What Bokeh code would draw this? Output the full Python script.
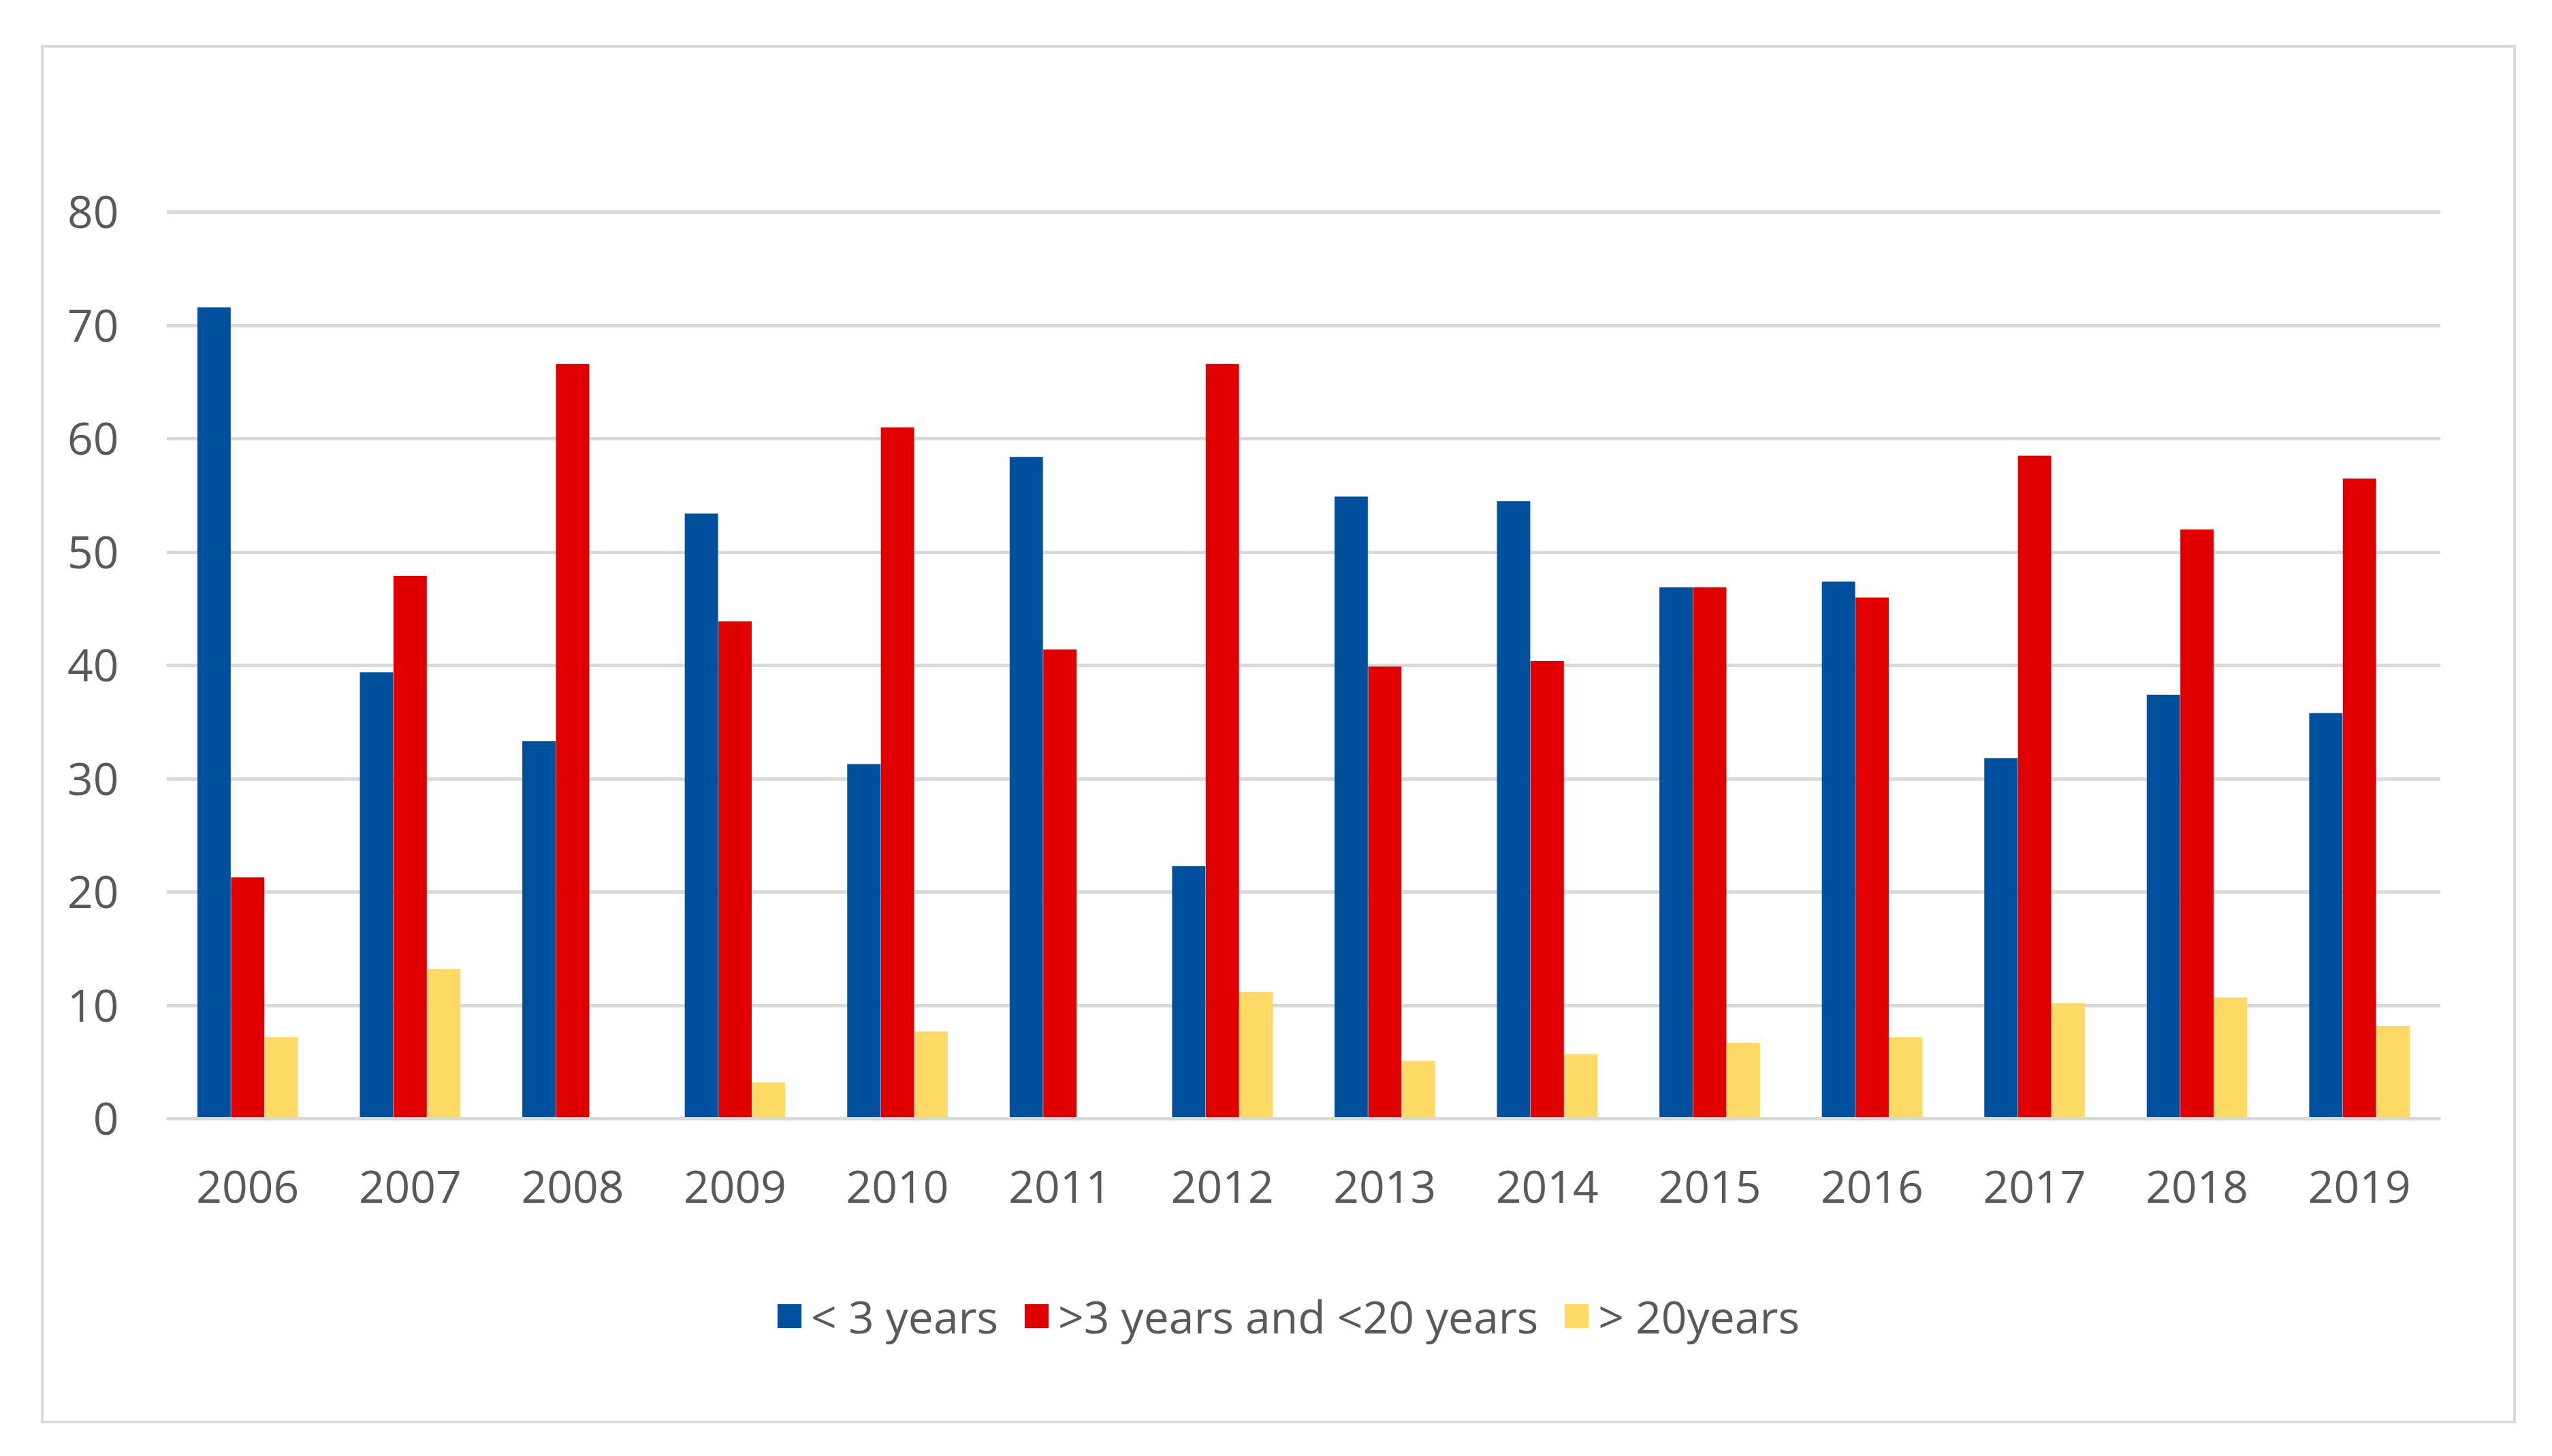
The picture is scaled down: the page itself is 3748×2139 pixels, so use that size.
from bokeh.plotting import figure
from bokeh.layouts import column
from bokeh.models import ColumnDataSource, FactorRange, Range1d, FixedTicker, Legend, LegendItem
from bokeh.transform import dodge
from bokeh.embed import file_html
from bokeh.resources import INLINE

years = ["2006", "2007", "2008", "2009", "2010", "2011", "2012",
         "2013", "2014", "2015", "2016", "2017", "2018", "2019"]
under3 = [71.6, 39.4, 33.3, 53.4, 31.3, 58.4, 22.3, 54.9, 54.5, 46.9, 47.4, 31.8, 37.4, 35.8]
mid3_20 = [21.3, 47.9, 66.6, 43.9, 61.0, 41.4, 66.6, 39.9, 40.4, 46.9, 46.0, 58.5, 52.0, 56.5]
over20 = [7.2, 13.2, 0.0, 3.2, 7.7, 0.0, 11.2, 5.1, 5.7, 6.7, 7.2, 10.2, 10.7, 8.2]
series_names = ["< 3 years", ">3 years and <20 years", "> 20years"]
y_ticks = [0, 10, 20, 30, 40, 50, 60, 70, 80]

colors = ["#00509E", "#E00000", "#FFD966"]
FONT = "Open Sans"
TXT = "#595959"
GRID = "#D9D9D9"

src = ColumnDataSource(dict(year=years, a=under3, b=mid3_20, c=over20))

W = 3627
p = figure(width=W, height=1773, output_backend="svg", toolbar_location=None,
           x_range=FactorRange(*years, range_padding=0), y_range=Range1d(0, 80.25),
           min_border_left=180, min_border_right=107, min_border_top=237, min_border_bottom=200)
p.outline_line_color = None
p.background_fill_color = "white"
p.border_fill_color = "white"

off = 0.207
w = 0.205
cols = ["a", "b", "c"]
offsets = [-off, 0.0, off]
for col, o, c in zip(cols, offsets, colors):
    p.vbar(x=dodge("year", o, range=p.x_range), top=col, width=w, source=src,
           fill_color=c, line_color=None)

p.xgrid.grid_line_color = None
p.ygrid.grid_line_color = GRID
p.ygrid.grid_line_width = 5
p.yaxis.ticker = FixedTicker(ticks=y_ticks)

for ax in (p.xaxis[0], p.yaxis[0]):
    ax.major_label_text_font = FONT
    ax.major_label_text_font_size = "66px"
    ax.major_label_text_color = TXT
    ax.major_tick_line_color = None
    ax.minor_tick_line_color = None

p.yaxis.axis_line_color = None
p.yaxis.major_label_standoff = 64
p.xaxis.axis_line_color = GRID
p.xaxis.axis_line_width = 5
p.xaxis.major_label_standoff = 70

# legend strip below the chart (its zero-width bars draw nothing; they only feed the legend)
pl = figure(width=W, height=244, output_backend="svg", toolbar_location=None,
            x_axis_type=None, y_axis_type=None,
            x_range=p.x_range, y_range=Range1d(-1000, -999),
            min_border_left=0, min_border_right=0, min_border_top=0, min_border_bottom=0)
pl.outline_line_color = None
pl.xgrid.grid_line_color = None
pl.ygrid.grid_line_color = None
pl.background_fill_color = "white"
pl.border_fill_color = "white"

leg_renderers = [pl.vbar(x=dodge("year", o, range=p.x_range), top=col, width=0, source=src,
                         fill_color=c, line_color=None)
                 for col, o, c in zip(cols, offsets, colors)]

legend = Legend(items=[LegendItem(label=n, renderers=[r]) for n, r in zip(series_names, leg_renderers)],
                orientation="horizontal", location=(893, 109),
                label_text_font=FONT, label_text_font_size="66px", label_text_color=TXT,
                glyph_width=44, glyph_height=44, label_standoff=10, spacing=34,
                padding=0, margin=0, border_line_color=None, background_fill_alpha=0)
pl.add_layout(legend, "center")

layout = column(p, pl, spacing=0)
layout.margin = (66, 0, 0, 60)
layout.styles = {"border": "4px solid #D9D9D9"}

open("out.html", "w").write(file_html(layout, INLINE))
